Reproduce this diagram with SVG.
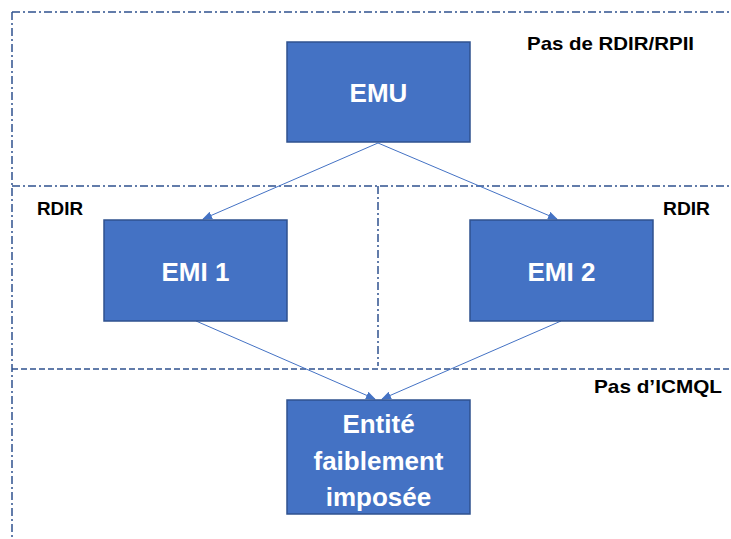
<svg xmlns="http://www.w3.org/2000/svg" width="731" height="539" viewBox="0 0 731 539">
<style>
.box{fill:#4472C4;stroke:#2F528F;stroke-width:1.5}
.bt{fill:#fff;font-family:"Liberation Sans",Arial,sans-serif;font-weight:bold;font-size:26px;text-anchor:middle}
.lbl{fill:#000;font-family:"Liberation Sans",Arial,sans-serif;font-weight:bold;font-size:19px}
.dd{fill:none;stroke:#2F528F;stroke-width:1.5;stroke-dasharray:8 3 2 3}
.da{fill:none;stroke:#2F528F;stroke-width:1.5;stroke-dasharray:6 3}
.cn{fill:none;stroke:#4472C4;stroke-width:1;marker-end:url(#ah)}
</style>
<defs>
<marker id="ah" markerWidth="10" markerHeight="8" refX="9" refY="4" orient="auto" markerUnits="userSpaceOnUse">
<path d="M0,0 L10,4 L0,8 Z" fill="#4472C4"/>
</marker>
</defs>
<rect width="731" height="539" fill="#fff"/>
<g id="zones">
<path class="dd" d="M12,12 H731"/>
<path class="dd" d="M12,12 V539"/>
<path class="dd" d="M12,186 H731"/>
<path class="dd" d="M378,186 V366"/>
<path class="da" d="M12,369 H731"/>
</g>
<g id="connectors">
<path class="cn" d="M378,143 L203,219"/>
<path class="cn" d="M378,143 L557,219"/>
<path class="cn" d="M196,321 L375,399"/>
<path class="cn" d="M561,321 L382,399"/>
</g>
<g id="emu"><rect class="box" x="287" y="42" width="183" height="100"/><text class="bt" x="378.5" y="102">EMU</text></g>
<g id="emi1"><rect class="box" x="104" y="220" width="183" height="101"/><text class="bt" x="195.5" y="281">EMI 1</text></g>
<g id="emi2"><rect class="box" x="470" y="220" width="183" height="101"/><text class="bt" x="561.5" y="281">EMI 2</text></g>
<g id="entite"><rect class="box" x="287" y="400" width="183" height="114"/>
<text class="bt" x="378.5" y="433">Entité</text>
<text class="bt" x="378.5" y="470">faiblement</text>
<text class="bt" x="378.5" y="506">imposée</text></g>
<g id="labels">
<text class="lbl" x="527" y="50" textLength="167" lengthAdjust="spacingAndGlyphs">Pas de RDIR/RPII</text>
<text class="lbl" x="37" y="215" textLength="46" lengthAdjust="spacingAndGlyphs">RDIR</text>
<text class="lbl" x="663" y="215" textLength="47" lengthAdjust="spacingAndGlyphs">RDIR</text>
<text class="lbl" x="594" y="393" textLength="128" lengthAdjust="spacingAndGlyphs">Pas d’ICMQL</text>
</g>
</svg>
